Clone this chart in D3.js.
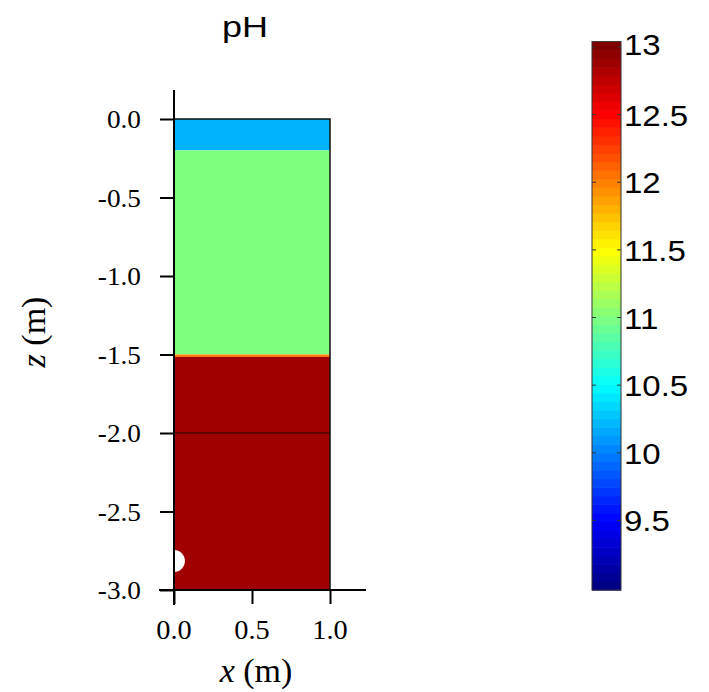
<!DOCTYPE html>
<html>
<head>
<meta charset="utf-8">
<script src="https://cdn.jsdelivr.net/npm/d3@7"></script>
<style>
  body { margin: 0; background: #fff; }
  svg { display: block; }
</style>
</head>
<body>
<svg id="chart" width="709" height="692"></svg>
<script>
// layers of the column, top to bottom (depth in m, pH)
var layerTop = [0.0, -0.2, -1.5, -1.515];
var layerBottom = [-0.2, -1.5, -1.515, -3.0];
var layerPH = [10.2, 11.0, 12.0, 12.87];

var xTicks = [0.0, 0.5, 1.0];
var zTicks = [0.0, -0.5, -1.0, -1.5, -2.0, -2.5, -3.0];
var cbTicks = [9.5, 10, 10.5, 11, 11.5, 12, 12.5, 13];

var pipeZ = -2.815, pipeR = 0.07;
var markLine = -2.0;

var svg = d3.select('#chart');

var x = d3.scaleLinear().domain([0, 1]).range([174, 330]);
var z = d3.scaleLinear().domain([0, -3]).range([119, 590]);

// matlab jet over pH 9..13
var jet = d3.scaleLinear()
    .domain([9, 9.5, 10.5, 11.5, 12.5, 13])
    .range(['#000080', '#0000ff', '#00ffff', '#ffff00', '#ff0000', '#800000'])
    .clamp(true);

var serif = '"Liberation Serif", "Times New Roman", serif';
var sans = '"Liberation Sans", Arial, sans-serif';
var fmt = function(d) { return d3.format('.1f')(d).replace('\u2212', '-'); };

// text placed at (px, py), optionally stretched sideways like the source image
function stretchText(parent, px, py, sx, anchor, family, size) {
    return parent.append('text')
        .attr('transform', 'translate(' + px + ',' + py + ') scale(' + sx + ',1)')
        .attr('text-anchor', anchor)
        .style('font-family', family).style('font-size', size + 'px')
        .attr('fill', '#000');
}

// domain fill
svg.selectAll('rect.layer')
    .data(layerPH)
    .enter().append('rect')
    .attr('class', 'layer')
    .attr('x', x(0))
    .attr('width', x(1) - x(0))
    .attr('y', function(d, i) { return z(layerTop[i]); })
    .attr('height', function(d, i) { return z(layerBottom[i]) - z(layerTop[i]); })
    .attr('fill', function(d) { return jet(d); });

svg.append('line')
    .attr('x1', x(0)).attr('x2', x(1))
    .attr('y1', z(markLine)).attr('y2', z(markLine))
    .attr('stroke', '#4a0000').attr('stroke-width', 1.5);

svg.append('circle')
    .attr('cx', x(0)).attr('cy', z(pipeZ))
    .attr('r', x(pipeR) - x(0))
    .attr('fill', '#fff');

// domain outline (top + right)
svg.append('path')
    .attr('d', 'M' + x(0) + ',' + z(0) + 'H' + x(1) + 'V' + z(-3))
    .attr('fill', 'none').attr('stroke', '#111').attr('stroke-width', 1.5);

// axes
var yAxis = d3.axisLeft(z).tickValues(zTicks).tickSize(14).tickFormat('');
var gy = svg.append('g').attr('transform', 'translate(' + x(0) + ',0)').call(yAxis);
gy.select('.domain').remove();
gy.append('line').attr('x1', 0).attr('x2', 0).attr('y1', 90).attr('y2', z(-3) + 15)
    .attr('stroke', '#000').attr('stroke-width', 2);

var xAxis = d3.axisBottom(x).tickValues(xTicks).tickSize(14).tickFormat('');
var gx = svg.append('g').attr('transform', 'translate(0,' + z(-3) + ')').call(xAxis);
gx.select('.domain').remove();
gx.append('line').attr('x1', x(0) - 15).attr('x2', 366).attr('y1', 0).attr('y2', 0)
    .attr('stroke', '#000').attr('stroke-width', 2);

[gx, gy].forEach(function(g) {
    g.selectAll('.tick line').attr('stroke', '#000').attr('stroke-width', 2);
});

zTicks.forEach(function(d) {
    stretchText(svg, 141, z(d) + 9, 1.05, 'end', serif, 26).text(fmt(d));
});
xTicks.forEach(function(d) {
    stretchText(svg, x(d), 639, 1.05, 'middle', serif, 27).text(fmt(d));
});

// titles
stretchText(svg, 245, 37, 1.2, 'middle', sans, 30).text('pH');

var xl = stretchText(svg, 256, 682, 1, 'middle', serif, 34);
xl.append('tspan').style('font-style', 'italic').text('x');
xl.append('tspan').text(' (m)');

var zl = svg.append('text').attr('transform', 'translate(45,332) rotate(-90)')
    .attr('text-anchor', 'middle')
    .style('font-family', serif).style('font-size', '34px');
zl.append('tspan').style('font-style', 'italic').text('z');
zl.append('tspan').text(' (m)');

// colorbar
var cb = d3.scaleLinear().domain([9, 13]).range([588, 47]);
var cbLo = 8.985, cbHi = 13.04, cbX = 592, cbW = 29;
var steps = d3.range(64);
var stepH = (cbHi - cbLo) / 64;
svg.selectAll('rect.cb')
    .data(steps)
    .enter().append('rect')
    .attr('class', 'cb')
    .attr('x', cbX).attr('width', cbW)
    .attr('y', function(i) { return cb(cbLo + (i + 1) * stepH); })
    .attr('height', function(i) { return cb(cbLo + i * stepH) - cb(cbLo + (i + 1) * stepH) + 0.6; })
    .attr('fill', function(i) { return jet(cbLo + (i + 0.5) * stepH); });

svg.append('rect').attr('x', cbX).attr('y', cb(cbHi)).attr('width', cbW)
    .attr('height', cb(cbLo) - cb(cbHi))
    .attr('fill', 'none').attr('stroke', '#333').attr('stroke-width', 1);

var cbg = svg.selectAll('g.cbt').data(cbTicks).enter().append('g').attr('class', 'cbt');
cbg.append('line').attr('x1', cbX).attr('x2', cbX + 4)
    .attr('y1', function(d) { return cb(d); }).attr('y2', function(d) { return cb(d); })
    .attr('stroke', '#333');
cbg.append('line').attr('x1', cbX + cbW - 4).attr('x2', cbX + cbW)
    .attr('y1', function(d) { return cb(d); }).attr('y2', function(d) { return cb(d); })
    .attr('stroke', '#333');
cbTicks.forEach(function(d) {
    stretchText(svg, cbX + cbW + 3, d === 13 ? cb(d) + 8 : cb(d) + 11, 1.1, 'start', sans, 30).text(d);
});
</script>
</body>
</html>
